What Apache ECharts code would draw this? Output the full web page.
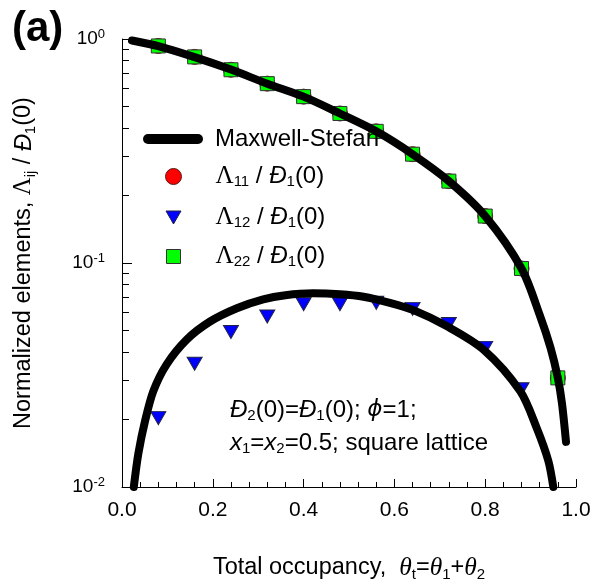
<!DOCTYPE html>
<html>
<head>
<meta charset="utf-8">
<script src="https://cdn.jsdelivr.net/npm/echarts@6/dist/echarts.min.js"></script>
<style>
  html, body { margin: 0; padding: 0; background: #ffffff; }
  #chart { width: 594px; height: 587px; }
</style>
</head>
<body>
<div id="chart"></div>
<script>
// Total occupancy at which the simulated matrix elements were sampled
const occupancy = [0.08, 0.16, 0.24, 0.32, 0.40, 0.48, 0.56, 0.64, 0.72, 0.80, 0.88, 0.96];
// Normalized elements Λij / Đ1(0)
const lambda11 = [0.931, 0.832, 0.729, 0.632, 0.553, 0.465, 0.387, 0.306, 0.232, 0.162, 0.0945, 0.0307];
const lambda12 = [0.0203, 0.0355, 0.0492, 0.0577, 0.0655, 0.0655, 0.0664, 0.0624, 0.0534, 0.0418, 0.0273];
const lambda22 = [0.931, 0.832, 0.729, 0.632, 0.553, 0.465, 0.387, 0.306, 0.232, 0.162, 0.0945, 0.0307];

// Maxwell-Stefan model curves (diagonal and off-diagonal branches)
const msUpperTheta = [0.022, 0.08, 0.16, 0.24, 0.32, 0.40, 0.48, 0.56, 0.64, 0.72, 0.80, 0.88, 0.92, 0.944, 0.96, 0.969, 0.978];
const msUpperValue = [0.985, 0.93, 0.83, 0.73, 0.632, 0.553, 0.465, 0.387, 0.306, 0.232, 0.162, 0.0945, 0.0587, 0.0418, 0.0307, 0.0237, 0.0159];
const msLowerTheta = [0.026, 0.036, 0.051, 0.069, 0.098, 0.1425, 0.194, 0.253, 0.311, 0.36, 0.421, 0.48, 0.532, 0.59, 0.642, 0.715, 0.796, 0.877, 0.913, 0.939, 0.950];
const msLowerValue = [0.0100, 0.0141, 0.0198, 0.0268, 0.0352, 0.0455, 0.0548, 0.0628, 0.0688, 0.0718, 0.0732, 0.0725, 0.0707, 0.0664, 0.0616, 0.0523, 0.0411, 0.0268, 0.01845, 0.0131, 0.0100];

// Axis ticks
const xMin = 0, xMax = 1, xStep = 0.2;
const yMin = 0.01, yMax = 1;
const yMinorTicks = [0.02, 0.03, 0.04, 0.05, 0.06, 0.07, 0.08, 0.09, 0.2, 0.3, 0.4, 0.5, 0.6, 0.7, 0.8, 0.9];

const SANS = '"Liberation Sans", Arial, sans-serif';
const SERIF = '"Liberation Serif", "Times New Roman", serif';

const zip = (xs, ys) => ys.map((y, i) => [xs[i], y]);

// Shared rich-text styles for Greek letters, italics and subscripts
function richSet(size, subSize, lh) {
  const base = { color: '#000', fontWeight: 'normal', lineHeight: lh };
  return {
    t: Object.assign({ fontFamily: SANS, fontSize: size }, base),
    i: Object.assign({ fontFamily: SANS, fontSize: size, fontStyle: 'italic' }, base),
    g: Object.assign({ fontFamily: SERIF, fontSize: size + 1 }, base),
    th: Object.assign({ fontFamily: SERIF, fontSize: size + 2, fontStyle: 'italic' }, base),
    p: Object.assign({ fontFamily: '"DejaVu Sans", sans-serif', fontSize: size - 1, fontStyle: 'italic' }, base),
    s: { fontFamily: SANS, fontSize: subSize, color: '#000', fontWeight: 'normal', verticalAlign: 'bottom' }
  };
}

const legendRich = richSet(24, 15, 26);
const ICON_X = 173;
const TEXT_X = 215;

function symbolLegend(name, top, w, h, icon, text) {
  return {
    data: [{ name: name, icon: icon }],
    orient: 'vertical',
    left: ICON_X - w / 2,
    top: top,
    padding: 0,
    itemWidth: w,
    itemHeight: h,
    itemStyle: { borderWidth: 1, opacity: 1 },
    formatter: () => text,
    textStyle: { padding: [0, 0, 0, TEXT_X - (ICON_X + w / 2) - 5], rich: legendRich }
  };
}

const chart = echarts.init(document.getElementById('chart'));

chart.setOption({
  animation: false,
  backgroundColor: '#ffffff',
  title: [
    {
      text: '(a)',
      left: 12, top: 8, padding: 0,
      textStyle: { fontFamily: SANS, fontSize: 42, fontWeight: 'bold', color: '#000' }
    },
    {
      text: '{i|Đ}{s|2}{t|(0)=}{i|Đ}{s|1}{t|(0); }{p|ϕ}{t|=1;}',
      left: 230, top: 397, padding: 0,
      textStyle: { fontWeight: 'normal', rich: richSet(24, 15, 26) }
    },
    {
      text: '{i|x}{s|1}{t|=}{i|x}{s|2}{t|=0.5; square lattice}',
      left: 230, top: 430, padding: 0,
      textStyle: { fontWeight: 'normal', rich: richSet(24, 15, 26) }
    }
  ],
  legend: [
    {
      data: [{ name: 'Maxwell-Stefan', icon: 'path://M5,0 H55 A5,5 0 0 1 55,10 H5 A5,5 0 0 1 5,0 Z' }],
      left: 143, top: 126, padding: 0,
      itemWidth: 60, itemHeight: 10,
      itemStyle: { color: '#000', opacity: 1 },
      textStyle: { fontFamily: SANS, fontSize: 24, color: '#000', lineHeight: 26, padding: [0, 0, 0, TEXT_X - 143 - 60 - 5] }
    },
    symbolLegend('Λ11', 164, 16, 16, 'circle', '{g|Λ}{s|11}{t| / }{i|Đ}{s|1}{t|(0)}'),
    symbolLegend('Λ12', 205, 15, 13, 'path://M0,0 L15,0 L7.5,13 Z', '{g|Λ}{s|12}{t| / }{i|Đ}{s|1}{t|(0)}'),
    symbolLegend('Λ22', 244, 14, 14, 'rect', '{g|Λ}{s|22}{t| / }{i|Đ}{s|1}{t|(0)}')
  ],
  grid: { left: 122, right: 18, top: 39, bottom: 97, containLabel: false },
  xAxis: {
    type: 'value',
    min: xMin, max: xMax, interval: xStep,
    axisLine: { show: true, onZero: false, lineStyle: { color: '#000', width: 1 } },
    axisTick: { show: true, inside: true, length: 8, lineStyle: { color: '#000', width: 1 } },
    minorTick: { show: true, splitNumber: 5, length: 5, lineStyle: { color: '#000', width: 1 } },
    splitLine: { show: false },
    axisLabel: {
      formatter: v => v.toFixed(1),
      fontFamily: SANS, fontSize: 21, color: '#000', margin: 13
    },
    name: '{t|Total occupancy,  }{th|θ}{s|t}{t|=}{th|θ}{s|1}{t|+}{th|θ}{s|2}',
    nameLocation: 'middle',
    nameGap: 67,
    nameTextStyle: { rich: richSet(23.5, 15, 28) }
  },
  yAxis: [
    {
      type: 'log',
      logBase: 10,
      min: yMin, max: yMax,
      position: 'left',
      axisLine: { show: true, onZero: false, lineStyle: { color: '#000', width: 1 } },
      axisTick: { show: true, inside: true, length: 10, lineStyle: { color: '#000', width: 1 } },
      splitLine: { show: false },
      axisLabel: {
        margin: 17,
        formatter: v => '{b|10}{e|' + Math.round(Math.log10(v)) + '}',
        rich: {
          b: { fontFamily: SANS, fontSize: 19, color: '#000', lineHeight: 22 },
          e: { fontFamily: SANS, fontSize: 13, color: '#000', verticalAlign: 'top' }
        }
      },
      name: '{t|Normalized elements, }{g|Λ}{s|ij}{t| / }{i|Đ}{s|1}{t|(0)}',
      nameLocation: 'middle',
      nameGap: 84,
      nameTextStyle: { rich: richSet(23.5, 15, 28) }
    },
    {
      // decade subdivisions, laid out in log10 space on the same pixel span
      type: 'value',
      min: Math.log10(yMin), max: Math.log10(yMax),
      position: 'left', offset: 0,
      axisLine: { show: false, onZero: false },
      axisLabel: { show: false },
      splitLine: { show: false },
      axisTick: {
        show: true, inside: true, length: 7,
        customValues: yMinorTicks.map(v => Math.log10(v)),
        lineStyle: { color: '#000', width: 1 }
      }
    }
  ],
  series: [
    {
      name: 'Maxwell-Stefan', type: 'line',
      data: zip(msUpperTheta, msUpperValue),
      symbol: 'none', showSymbol: false, smooth: 0.3, clip: false, silent: true,
      itemStyle: { color: '#000' },
      lineStyle: { color: '#000', width: 8, cap: 'round', join: 'round' }
    },
    {
      name: 'Maxwell-Stefan', type: 'line',
      data: zip(msLowerTheta, msLowerValue),
      symbol: 'none', showSymbol: false, smooth: 0.3, clip: false, silent: true,
      itemStyle: { color: '#000' },
      lineStyle: { color: '#000', width: 8, cap: 'round', join: 'round' }
    },
    {
      name: 'Λ11', type: 'scatter',
      data: zip(occupancy, lambda11),
      symbol: 'circle', symbolSize: 15,
      itemStyle: { color: '#ff0000', borderColor: '#5a1a1a', borderWidth: 1, opacity: 1 }
    },
    {
      name: 'Λ12', type: 'scatter',
      data: zip(occupancy, lambda12),
      symbol: 'triangle', symbolRotate: 180, symbolSize: [15, 13],
      itemStyle: { color: '#0000ff', borderColor: '#222244', borderWidth: 1, opacity: 1 }
    },
    {
      name: 'Λ22', type: 'scatter',
      data: zip(occupancy, lambda22),
      symbol: 'rect', symbolSize: 14,
      itemStyle: { color: '#00ff00', borderColor: '#333333', borderWidth: 1, opacity: 1 }
    }
  ]
});
</script>
</body>
</html>
